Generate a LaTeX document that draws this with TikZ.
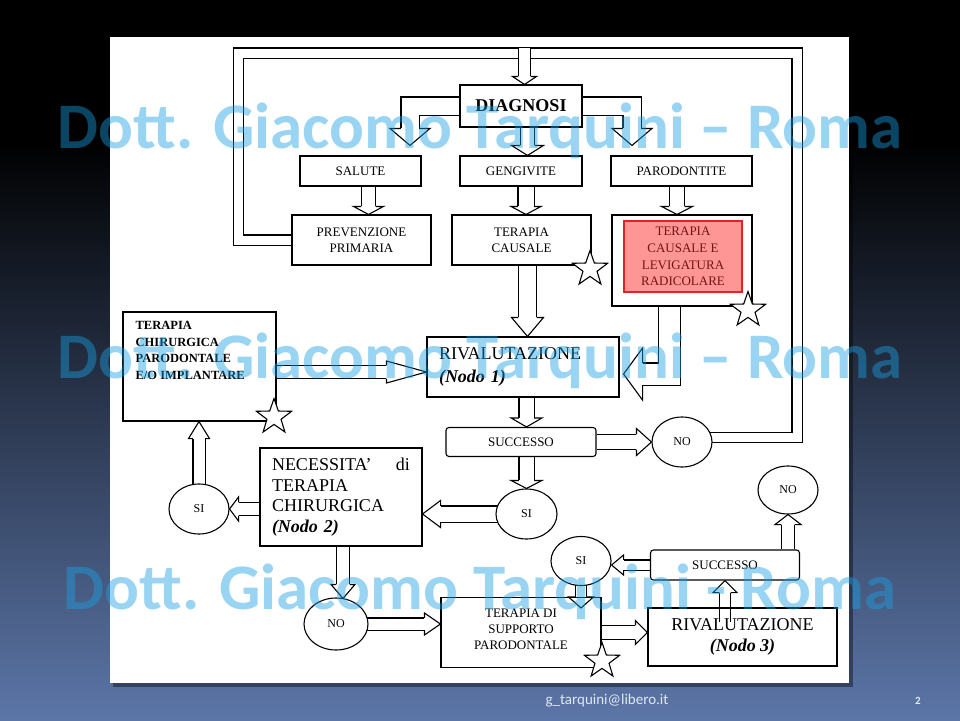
\documentclass[tikz,border=0pt]{standalone}
\usepackage{fontspec}
\setmainfont{Liberation Serif}
\newfontfamily\wmfont{Carlito}
\usetikzlibrary{calc,shapes.geometric,backgrounds}
\definecolor{slidebot}{RGB}{92,118,168}
\definecolor{wmblue}{RGB}{25,160,227}
\definecolor{redfill}{RGB}{255,150,150}
\definecolor{redline}{RGB}{225,35,35}
\definecolor{redtext}{RGB}{115,20,20}
\definecolor{foot}{RGB}{225,232,242}

% block arrow: shaft width, head width, head length, path to last bend, last bend, tip
\newcommand{\barrow}[6]{%
  \coordinate (bb) at #5;
  \coordinate (bt) at #6;
  \coordinate (bh) at ($(bt)!#3!(bb)$);
  \draw[shaft, double distance=#1] #4 -- (bh);
  \draw[ahead] ($(bh)!#1/2+0.55pt!90:(bt)$) -- ($(bh)!#2/2!90:(bt)$) -- (bt)
    -- ($(bh)!#2/2!-90:(bt)$) -- ($(bh)!#1/2+0.55pt!-90:(bt)$);
}
\newcommand{\sarrow}[5]{\barrow{#1}{#2}{#3}{#4}{#4}{#5}}

\begin{document}
\begin{tikzpicture}[x=1pt, y=-1pt,
    box/.style={draw, line width=1.1pt, fill=white, inner sep=2pt, align=center, font=\fontsize{13}{16}\selectfont},
    rbox/.style={box, rounded corners=3pt},
    oval/.style={ellipse, draw, line width=1.1pt, fill=white, inner sep=0pt, minimum width=60pt, minimum height=50pt, font=\fontsize{12}{14}\selectfont},
    big/.style={font=\fontsize{18}{21}\selectfont},
    shaft/.style={draw=black, line width=1.1pt, double=white},
    ahead/.style={draw=black, line width=1.1pt, fill=white},
    starry/.style={star, star points=5, star point ratio=2.5, draw, fill=white, line width=1.1pt, minimum size=37pt, inner sep=0pt},
    wm/.style={font=\wmfont\bfseries\fontsize{65}{70}\selectfont, text=wmblue, text opacity=0.44, anchor=base, inner sep=0pt}]
  \useasboundingbox (0,0) rectangle (960,720);

  % Slide and page
  \begin{scope}[on background layer]
    \fill[black] (0,0) rectangle (960,720);
    \shade[top color=black, bottom color=slidebot] (0,140) rectangle (960,720);
    \fill[black, opacity=0.4] (113,41) rectangle (853,687);
    \fill[white] (110,37) rectangle (849,683);
  \end{scope}

  % Diagnosis and first therapies
  \node[box, font=\bfseries\fontsize{18}{21}\selectfont, minimum width=122pt, minimum height=42pt] (diag) at (521,106) {DIAGNOSI};
  \node[box, minimum width=121pt, minimum height=30pt] (sal) at (360.5,171) {SALUTE};
  \node[box, minimum width=122pt, minimum height=30pt] (geng) at (521,171) {GENGIVITE};
  \node[box, minimum width=141pt, minimum height=30pt] (paro) at (681.5,171) {PARODONTITE};
  \node[box, minimum width=139pt, minimum height=50pt] (prev) at (361.5,240) {PREVENZIONE\\PRIMARIA};
  \node[box, minimum width=139pt, minimum height=50pt] (tcaus) at (521.5,240) {TERAPIA\\CAUSALE};
  \node[box, minimum width=140pt, minimum height=91pt] (tlev) at (682,260.5) {};
  \node[box, draw=redline, fill=redfill, text=redtext, font=\fontsize{13}{16.7}\selectfont, minimum width=118pt, minimum height=71pt] (tlevin) at (683,256.5) {TERAPIA\\CAUSALE E\\LEVIGATURA\\RADICOLARE};

  % Node 1
  \node[box, minimum width=153pt, minimum height=109pt] (tchir) at (199.5,366.5) {};
  \node[font=\bfseries\fontsize{12.5}{16.5}\selectfont, align=left, anchor=north west, inner sep=0pt] (tchirtxt) at ($(tchir.north west)+(13,10)$) {TERAPIA\\CHIRURGICA\\PARODONTALE\\E/O IMPLANTARE};
  \node[box, font=\fontsize{18}{23}\selectfont, align=left, text width=168pt, inner xsep=12pt, minimum height=60pt] (riv1) at (523,367) {RIVALUTAZIONE\\\textbf{\textit{(Nodo 1)}}};
  \node[rbox, minimum width=150pt, minimum height=29pt] (succ1) at (521,442) {SUCCESSO};
  \node[oval] (no1) at (682,442) {NO};
  \node[oval, minimum width=61pt] (si1) at (526.5,514) {SI};

  % Node 2
  \node[box, font=\fontsize{18}{20.5}\selectfont, align=left, text width=138pt, inner xsep=12pt, minimum height=98pt] (nec) at (341,497) {\hbox to 138pt{NECESSITA’\hfill di}\\TERAPIA\\CHIRURGICA\\\textbf{\textit{(Nodo 2)}}};
  \node[oval] (si2) at (199,509) {SI};
  \node[oval, minimum width=64pt, minimum height=52pt] (no2) at (336,624) {NO};

  % Node 3
  \node[box, fill=none, minimum width=160pt, minimum height=70pt] (tsup) at (521,632.5) {};
  \node[align=center, font=\fontsize{13}{16}\selectfont, inner sep=0pt] (tsuptxt) at ($(tsup.center)+(0,-3)$) {TERAPIA DI\\SUPPORTO\\PARODONTALE};
  \node[box, fill=none, big, minimum width=189pt, minimum height=58pt] (riv3) at (742.5,637) {RIVALUTAZIONE\\\textbf{\textit{(Nodo 3)}}};
  \node[rbox, minimum width=149pt, minimum height=30pt] (succ3) at (725,565) {SUCCESSO};
  \node[oval, minimum height=49pt] (si3) at (581,561) {SI};
  \node[oval, minimum height=48pt] (no3) at (788,490) {NO};

  \begin{scope}[on background layer]
    % Loop back to the diagnosis
    \coordinate (lt) at (238.5,53);
    \coordinate (rt) at (797,53);
    \draw[shaft, double distance=9pt] (prev.center) -| (lt) -- (rt) |- ($(no1.center)+(0,-4.5)$);
    \sarrow{11pt}{24pt}{8pt}{($(diag.north |- lt)+(3.5,-5)$)}{($(diag.north)+(3.5,0)$)}

    % From the diagnosis
    \coordinate (dl) at ($(sal.north)+(49.5,0)$);
    \coordinate (dr) at ($(paro.north)+(-49.5,0)$);
    \barrow{17pt}{40pt}{17pt}{(diag.center) -- (diag.center -| dl)}{(diag.center -| dl)}{($(dl)+(0,-10)$)}
    \barrow{17pt}{40pt}{17pt}{(diag.center) -- (diag.center -| dr)}{(diag.center -| dr)}{($(dr)+(0,-10)$)}
    \sarrow{13pt}{32pt}{10pt}{($(diag.south)+(6.5,0)$)}{($(geng.north)+(6.5,0)$)}
    \sarrow{13pt}{30pt}{8pt}{($(sal.south)+(8,0)$)}{($(prev.north)+(7,0)$)}
    \sarrow{15pt}{30pt}{8pt}{($(geng.south)+(5,0)$)}{($(tcaus.north)+(4.5,0)$)}
    \sarrow{14pt}{31pt}{8pt}{($(paro.south)+(-4.5,0)$)}{($(tlev.north)+(-5,0)$)}

    % Into node 1
    \sarrow{17pt}{32pt}{19pt}{($(tcaus.south)+(6,0)$)}{($(riv1.north)+(4.5,0)$)}
    \coordinate (tb) at ($(tlev.south)+(-12.5,67.5)$);
    \barrow{21pt}{52pt}{19pt}{($(tlev.south)+(-12.5,0)$) -- (tb)}{(tb)}{($(riv1.east |- tb)+(4,0)$)}
    \sarrow{12pt}{22pt}{40pt}{($(tchir.east)+(0,5.5)$)}{($(riv1.west)+(0,5)$)}
    \sarrow{14pt}{31pt}{9pt}{(riv1.south -| si1.north)}{(succ1.north -| si1.north)}
    \sarrow{14pt}{27pt}{15pt}{(succ1.east)}{(no1.west |- succ1.east)}
    \sarrow{14pt}{31pt}{8pt}{(succ1.south -| si1.north)}{(si1.north)}

    % Node 2
    \sarrow{15pt}{27pt}{18pt}{(si1.center)}{(nec.east |- si1.center)}
    \sarrow{12pt}{24pt}{9pt}{(nec.west |- si2.east)}{(si2.east)}
    \sarrow{11pt}{21pt}{17pt}{(si2.center)}{(tchir.south -| si2.center)}
    \coordinate (nt) at ($(no2.north)+(7,1)$);
    \sarrow{12pt}{24pt}{14pt}{(nec.south -| nt)}{(nt)}
    \sarrow{11pt}{22pt}{16pt}{(no2.center)}{(tsup.west |- no2.center)}

    % Node 3
    \sarrow{10pt}{25pt}{11pt}{(si3.center)}{($(si3.center |- tsup.north)+(0,11)$)}
    \sarrow{13pt}{24pt}{12pt}{(tsup.east)}{(riv3.west |- tsup.east)}
    \sarrow{10pt}{24pt}{12pt}{($(succ3.south |- riv3.north)+(0,15)$)}{(succ3.south)}
    \sarrow{9pt}{20pt}{12pt}{(succ3.west)}{(si3.east |- succ3.west)}
    \sarrow{12pt}{26pt}{10pt}{(no3.south |- succ3.north)}{(no3.south)}
  \end{scope}

  % Stars
  \foreach \sx/\sy/\nm in {590/269/sta, 748/310/stb, 274/417/stc, 602/661/std}
    \node[starry] (\nm) at (\sx,\sy) {};

  % Watermark
  \foreach \wy/\wt [count=\i] in {148/{Dott. Giacomo Tarquini – Roma}, 378/{Dott. Giacomo Tarquini – Roma}, 609/{Dott. Giacomo Tarquini - Roma}}
    \node[wm] (wm\i) at (480,\wy) {\wt};

  % Footer
  \node[font=\wmfont\fontsize{15}{17}\selectfont, text=foot, anchor=base] (mail) at (607,704) {g\_tarquini@libero.it};
  \node[font=\wmfont\bfseries\fontsize{11}{13}\selectfont, text=foot, anchor=base] (pnum) at (918,704) {2};
\end{tikzpicture}
\end{document}
